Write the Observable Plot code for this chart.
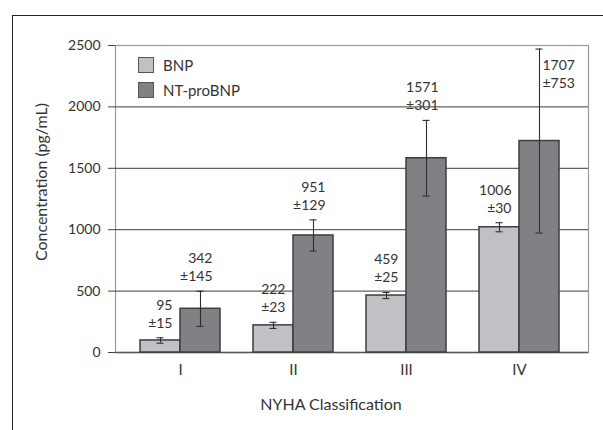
<!DOCTYPE html>
<html>
<head>
<meta charset="utf-8">
<script src="https://cdn.jsdelivr.net/npm/d3@7"></script>
<script src="https://cdn.jsdelivr.net/npm/@observablehq/plot@0.6"></script>
<style>
  html, body { margin: 0; padding: 0; background: #fff; }
  #wrap { position: relative; width: 603px; height: 430px; overflow: hidden; font-family: Lato, "DejaVu Sans", sans-serif; color: #333; }
  #wrap svg { position: absolute; left: 0; top: 0; }
  #frame { position: absolute; left: 12px; top: 15px; width: 620px; height: 440px; border-left: 1.5px solid #222; border-top: 1.5px solid #222; }
  .ytitle { position: absolute; left: 40px; top: 182px; transform: translate(-50%, -50%) rotate(-90deg); font-size: 16px; white-space: nowrap; color: #333; }
  .xtitle { position: absolute; left: 331px; top: 403px; transform: translate(-50%, -50%); font-size: 16px; white-space: nowrap; color: #333; }
  .legend { position: absolute; left: 138px; top: 52px; font-size: 15px; color: #333; }
  .legend .row { display: flex; align-items: center; height: 25px; }
  .legend .sw { width: 14px; height: 14px; border: 1.5px solid #555; margin-right: 9px; box-sizing: content-box; }
</style>
</head>
<body>
<div id="wrap"></div>
<script>
// ---- data ----
const classes = ["I", "II", "III", "IV"];
const seriesNames = ["BNP", "NT-proBNP"];
const seriesColors = ["#c0c1c5", "#808185"];

// bar heights and error half-widths as drawn
const bnpValues = [98, 221, 464, 1020];
const bnpErrors = [22, 25, 25, 37];
const ntValues = [356, 953, 1582, 1722];
const ntErrors = [143, 127, 308, 749];

// printed labels
const bnpLabelMean = ["95", "222", "459", "1006"];
const bnpLabelSd = ["15", "23", "25", "30"];
const ntLabelMean = ["342", "951", "1571", "1707"];
const ntLabelSd = ["145", "129", "301", "753"];

const yTicks = [0, 500, 1000, 1500, 2000, 2500];
const xTitle = "NYHA Classification";
const yTitle = "Concentration (pg/mL)";

// ---- table built from the arrays ----
const rows = classes.flatMap((c, i) => [
  {cls: c, series: seriesNames[0], value: bnpValues[i], err: bnpErrors[i], mean: bnpLabelMean[i], sd: bnpLabelSd[i]},
  {cls: c, series: seriesNames[1], value: ntValues[i], err: ntErrors[i], mean: ntLabelMean[i], sd: ntLabelSd[i]}
]);
const yMax = yTicks[yTicks.length - 1];
const lo = d => d.value - d.err;
const hi = d => d.value + d.err;
const nearTop = d => hi(d) > 0.9 * yMax;
const labelText = d => `${d.mean}\n±${d.sd}`;

const W = 603, H = 430;
const margins = {marginLeft: 115, marginRight: 15, marginTop: 45, marginBottom: 78};

// background: frame, grid, y axis
const back = Plot.plot({
  width: W, height: H, ...margins,
  style: {background: "transparent", fontFamily: "Lato, sans-serif", fontSize: "14px", color: "#333"},
  y: {domain: [0, yMax]},
  marks: [
    Plot.frame({stroke: "#9a9a9a", strokeWidth: 1.2}),
    Plot.ruleY(yTicks.filter(t => t > 0 && t < yMax), {stroke: "#3c3c3c", strokeWidth: 1}),
    Plot.ruleY([0], {stroke: "#555", strokeWidth: 1.6}),
    Plot.axisY(yTicks, {tickSize: 7, tickPadding: 8, label: null, tickFormat: d => String(d), stroke: "#444", fontSize: 14, fill: "#333"})
  ]
});

// foreground: grouped bars faceted by class
const front = Plot.plot({
  width: W, height: H, ...margins,
  style: {background: "transparent", fontFamily: "Lato, sans-serif", fontSize: "14px", color: "#333"},
  fx: {domain: classes, paddingInner: 0.295, paddingOuter: 0.231, align: 0.467, axis: null},
  x: {domain: seriesNames, padding: 0, axis: null},
  y: {domain: [0, yMax], axis: null},
  color: {domain: seriesNames, range: seriesColors},
  marks: [
    Plot.axisFx({anchor: "bottom", tickSize: 0, tickPadding: 12, label: null, fontSize: 15, fill: "#333"}),
    Plot.barY(rows, {fx: "cls", x: "series", y: "value", fill: "series", stroke: "#3e3e3e", strokeWidth: 1.5}),
    Plot.ruleX(rows, {fx: "cls", x: "series", y1: lo, y2: hi, stroke: "#2e2e2e", strokeWidth: 1.1}),
    Plot.tickY(rows, {fx: "cls", x: "series", y: lo, insetLeft: 16.5, insetRight: 16.5, stroke: "#2e2e2e", strokeWidth: 1.1}),
    Plot.tickY(rows, {fx: "cls", x: "series", y: hi, insetLeft: 16.5, insetRight: 16.5, stroke: "#2e2e2e", strokeWidth: 1.1}),
    Plot.text(rows.filter(d => !nearTop(d)), {fx: "cls", x: "series", y: hi, text: labelText, textAnchor: "end", lineAnchor: "bottom", lineHeight: 1.3, dx: 12, dy: -10, fontSize: 14, fill: "#333"}),
    Plot.text(rows.filter(nearTop), {fx: "cls", x: "series", y: hi, text: labelText, textAnchor: "start", lineAnchor: "top", lineHeight: 1.3, dx: 3, dy: 8, fontSize: 14, fill: "#333"})
  ]
});

const wrap = document.getElementById("wrap");
const frame = document.createElement("div");
frame.id = "frame";
wrap.appendChild(frame);
wrap.appendChild(back);
wrap.appendChild(front);

const yt = document.createElement("div");
yt.className = "ytitle"; yt.textContent = yTitle; wrap.appendChild(yt);
const xt = document.createElement("div");
xt.className = "xtitle"; xt.textContent = xTitle; wrap.appendChild(xt);

const legend = document.createElement("div");
legend.className = "legend";
seriesNames.forEach((s, i) => {
  const row = document.createElement("div");
  row.className = "row";
  const sw = document.createElement("div");
  sw.className = "sw"; sw.style.background = seriesColors[i];
  const lab = document.createElement("span");
  lab.textContent = s;
  row.appendChild(sw); row.appendChild(lab);
  legend.appendChild(row);
});
wrap.appendChild(legend);
</script>
</body>
</html>
